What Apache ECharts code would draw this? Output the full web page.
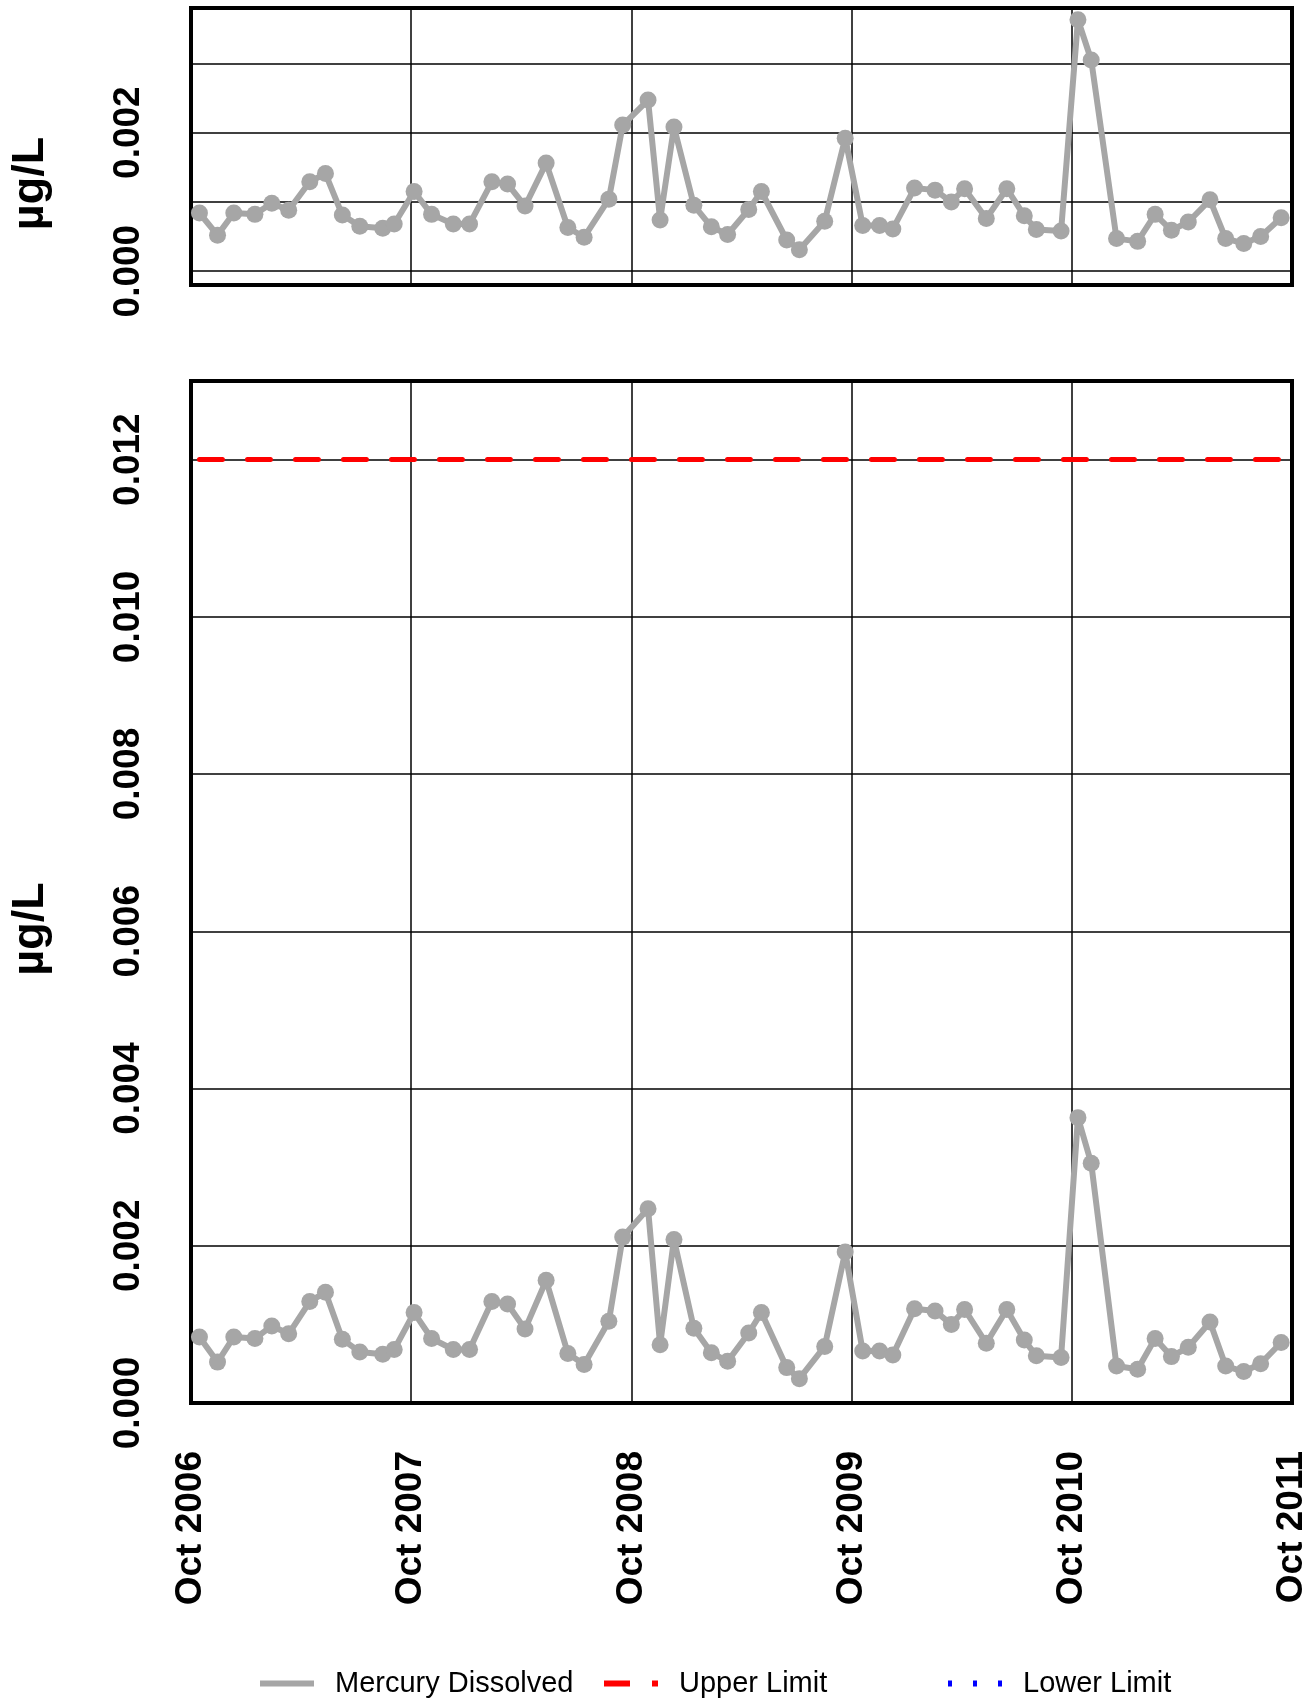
<!DOCTYPE html>
<html>
<head>
<meta charset="utf-8">
<script src="https://cdn.jsdelivr.net/npm/echarts@6/dist/echarts.min.js"></script>
<style>
  html, body { margin: 0; padding: 0; background: #fff; }
</style>
</head>
<body>
<div id="main" style="width: 1312px; height: 1699px;"></div>
<script>
// sample dates and dissolved mercury (ug/L)
const sampleDates = [
  '2006-10-15', '2006-11-14', '2006-12-11', '2007-01-15', '2007-02-12', '2007-03-12',
  '2007-04-16', '2007-05-12', '2007-06-09', '2007-07-08', '2007-08-15', '2007-09-03',
  '2007-10-06', '2007-11-04', '2007-12-10', '2008-01-06', '2008-02-12', '2008-03-09',
  '2008-04-07', '2008-05-12', '2008-06-17', '2008-07-14', '2008-08-24', '2008-09-16',
  '2008-10-28', '2008-11-17', '2008-12-10', '2009-01-12', '2009-02-10', '2009-03-09',
  '2009-04-13', '2009-05-04', '2009-06-15', '2009-07-06', '2009-08-17', '2009-09-20',
  '2009-10-19', '2009-11-16', '2009-12-08', '2010-01-13', '2010-02-16', '2010-03-15',
  '2010-04-06', '2010-05-12', '2010-06-15', '2010-07-14', '2010-08-03', '2010-09-13',
  '2010-10-11', '2010-11-02', '2010-12-14', '2011-01-18', '2011-02-16', '2011-03-15',
  '2011-04-12', '2011-05-18', '2011-06-13', '2011-07-13', '2011-08-10', '2011-09-13'
];
const mercuryValues = [
  0.00084, 0.00052, 0.00084, 0.00082, 0.00098, 0.00088,
  0.00129, 0.00141, 0.00081, 0.00065, 0.00062, 0.00068,
  0.00115, 0.00082, 0.00068, 0.00068, 0.00129, 0.00126,
  0.00094, 0.00156, 0.00063, 0.00049, 0.00104, 0.00211,
  0.00247, 0.00074, 0.00208, 0.00095, 0.00064, 0.00053,
  0.00089, 0.00115, 0.00045, 0.00031, 0.00072, 0.00192,
  0.00066, 0.00066, 0.00061, 0.00120, 0.00117, 0.00100,
  0.00119, 0.00076, 0.00119, 0.00080, 0.00060, 0.00058,
  0.00363, 0.00305, 0.00047, 0.00043, 0.00082, 0.00059,
  0.00071, 0.00103, 0.00047, 0.00040, 0.00050, 0.00077
];
const upperLimit = 0.012;

// axes
const xTicks = ['2006-10-01', '2007-10-01', '2008-10-01', '2009-10-01', '2010-10-01', '2011-10-01'];
const topGrid = [0, 0.001, 0.002, 0.003];
const topLabels = [0, 0.002];
const bottomTicks = [0, 0.002, 0.004, 0.006, 0.008, 0.010, 0.012];

const FONT = '"Liberation Sans", Arial, sans-serif';
const xTickTimes = xTicks.map(d => Date.parse(d));
const mercuryData = sampleDates.map((d, i) => [Date.parse(d), mercuryValues[i]]);
const limitData = [
  [Date.parse(sampleDates[0]), upperLimit],
  [Date.parse(sampleDates[sampleDates.length - 1]), upperLimit]
];

function xAxis(gridIndex, showLabels) {
  return {
    type: 'value',
    gridIndex: gridIndex,
    min: xTickTimes[0],
    max: xTickTimes[xTickTimes.length - 1],
    axisLine: { show: false },
    axisTick: { show: false, customValues: xTickTimes },
    splitLine: { show: true, lineStyle: { color: '#000', width: 1.5 } },
    axisLabel: {
      show: showLabels,
      customValues: xTickTimes,
      rotate: 90,
      margin: 48,
      fontFamily: FONT,
      fontSize: 37,
      fontWeight: 'bold',
      color: '#000',
      formatter: v => 'Oct ' + new Date(v).getUTCFullYear()
    }
  };
}

function yAxis(gridIndex, min, max, gridVals, labelVals) {
  return {
    type: 'value',
    gridIndex: gridIndex,
    min: min,
    max: max,
    name: 'µg/L',
    nameLocation: 'middle',
    nameRotate: 90,
    nameGap: 138,
    nameTextStyle: { fontFamily: FONT, fontSize: 45, fontWeight: 'bold', color: '#000', padding: [0, 74, 0, 0] },
    axisLine: { show: false },
    axisTick: { show: false, customValues: gridVals },
    splitLine: { show: true, lineStyle: { color: '#000', width: 1.5 } },
    axisLabel: {
      customValues: labelVals,
      rotate: 90,
      margin: 44,
      fontFamily: FONT,
      fontSize: 37,
      fontWeight: 'bold',
      color: '#000',
      formatter: v => v.toFixed(3)
    }
  };
}

function legendFor(name, left, icon) {
  return {
    left: left,
    top: 1664,
    itemWidth: 54,
    itemHeight: 6,
    data: [{ name: name, icon: icon }],
    textStyle: { fontFamily: FONT, fontSize: 29, color: '#000', padding: [0, 0, 0, 16] }
  };
}

const myChart = echarts.init(document.getElementById('main'), null, { renderer: 'canvas' });
const option = {
  backgroundColor: '#fff',
  animation: false,
  grid: [
    { left: 190, top: 8, width: 1102, height: 277, show: true, borderColor: '#000', borderWidth: 4, backgroundColor: 'transparent' },
    { left: 190, top: 381, width: 1102, height: 1022, show: true, borderColor: '#000', borderWidth: 4, backgroundColor: 'transparent' }
  ],
  xAxis: [xAxis(0, false), xAxis(1, true)],
  yAxis: [
    yAxis(0, -0.0002, 0.0038, topGrid, topLabels),
    yAxis(1, 0, 0.013, bottomTicks, bottomTicks)
  ],
  legend: [
    legendFor('Mercury Dissolved', 255, 'rect'),
    legendFor('Upper Limit', 599, 'path://M0,0H26V6H0ZM48,0H54V6H48Z'),
    legendFor('Lower Limit', 943, 'path://M0,0H4V6H0ZM25,0H29V6H25ZM50,0H54V6H50Z')
  ],
  series: [
    {
      name: 'Mercury Dissolved', type: 'line', xAxisIndex: 0, yAxisIndex: 0,
      data: mercuryData, symbol: 'circle', symbolSize: 17,
      itemStyle: { color: '#a6a6a6' }, lineStyle: { color: '#a6a6a6', width: 6 }, z: 3
    },
    {
      name: 'Mercury Dissolved', type: 'line', xAxisIndex: 1, yAxisIndex: 1,
      data: mercuryData, symbol: 'circle', symbolSize: 17,
      itemStyle: { color: '#a6a6a6' }, lineStyle: { color: '#a6a6a6', width: 6 }, z: 3
    },
    {
      name: 'Upper Limit', type: 'line', xAxisIndex: 1, yAxisIndex: 1,
      data: limitData, symbol: 'none',
      itemStyle: { color: '#ff0000' },
      lineStyle: { color: '#ff0000', width: 5, type: [23, 25], cap: 'round' }, z: 2
    },
    {
      name: 'Lower Limit', type: 'line', xAxisIndex: 1, yAxisIndex: 1,
      data: [], symbol: 'none',
      itemStyle: { color: '#0000ff' },
      lineStyle: { color: '#0000ff', width: 4, type: 'dotted' }
    }
  ]
};
myChart.setOption(option);
</script>
</body>
</html>
